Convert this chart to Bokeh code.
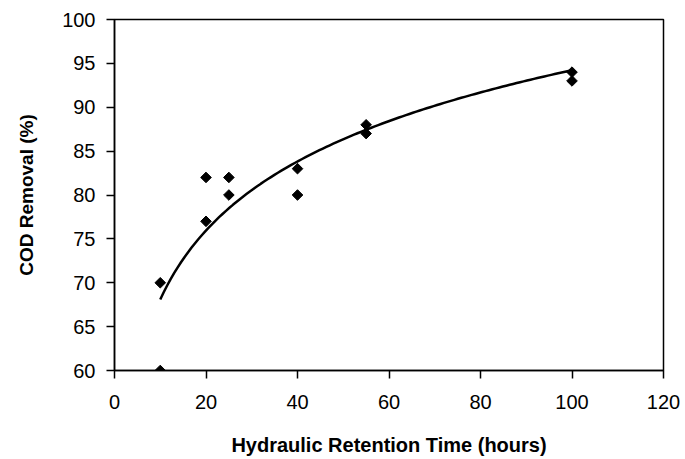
import numpy as np
from bokeh.plotting import figure
from bokeh.models import Range1d, FixedTicker, ColumnDataSource
from bokeh.embed import file_html
from bokeh.resources import INLINE

# Data
hrt_hours = [10, 10, 20, 20, 25, 25, 40, 40, 55, 55, 100, 100]
cod_removal = [70, 60, 82, 77, 82, 80, 83, 80, 88, 87, 94, 93]
x_ticks = [0, 20, 40, 60, 80, 100, 120]
y_ticks = [60, 65, 70, 75, 80, 85, 90, 95, 100]

# Logarithmic trendline (least squares on ln x, as Excel does)
b, a = np.polyfit(np.log(hrt_hours), cod_removal, 1)
trend_x = np.linspace(min(hrt_hours), max(hrt_hours), 120)
trend_y = a + b * np.log(trend_x)

FONT = "Liberation Sans"

p = figure(width=685, height=459, output_backend="svg", toolbar_location=None,
           x_range=Range1d(0, 120), y_range=Range1d(60, 100),
           min_border_left=114, min_border_right=22, min_border_top=19, min_border_bottom=89)

p.background_fill_color = "white"
p.border_fill_color = "white"
p.outline_line_color = "black"
p.outline_line_width = 1.5
p.xgrid.visible = False
p.ygrid.visible = False

p.line(trend_x, trend_y, line_color="black", line_width=2.5)
src = ColumnDataSource(dict(x=hrt_hours, y=cod_removal))
p.scatter("x", "y", source=src, marker="square", angle=np.pi / 4, size=7.5,
          fill_color="black", line_color="black")

for ax in (p.xaxis[0], p.yaxis[0]):
    ax.axis_line_color = "black"
    ax.axis_line_width = 1.5
    ax.major_tick_line_color = "black"
    ax.major_tick_line_width = 1.5
    ax.major_tick_out = 8
    ax.major_tick_in = 0
    ax.minor_tick_line_color = None
    ax.major_label_text_font = FONT
    ax.major_label_text_font_size = "20px"
    ax.major_label_text_color = "black"
    ax.axis_label_text_font = FONT
    ax.axis_label_text_font_style = "bold"
    ax.axis_label_text_color = "black"

p.xaxis.ticker = FixedTicker(ticks=x_ticks)
p.yaxis.ticker = FixedTicker(ticks=y_ticks)
p.xaxis.axis_label = "Hydraulic Retention Time (hours)"
p.yaxis.axis_label = "COD Removal (%)"
p.xaxis.axis_label_text_font_size = "20px"
p.yaxis.axis_label_text_font_size = "19px"
p.xaxis.major_label_standoff = 16
p.yaxis.major_label_standoff = 11
p.xaxis.axis_label_standoff = 22
p.yaxis.axis_label_standoff = 22

open("out.html", "w").write(file_html(p, INLINE))
